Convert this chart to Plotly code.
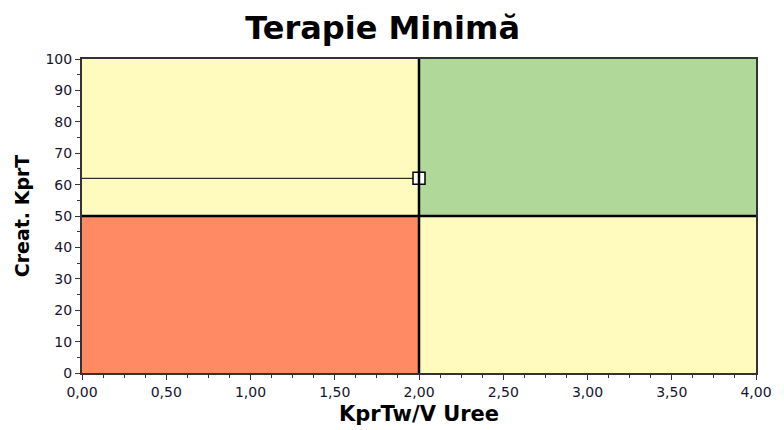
import plotly.graph_objects as go

# Threshold values that split the chart into quadrants
x_threshold = 2.0
y_threshold = 50
x_range = [0, 4.0]
y_range = [0, 100]

# Measured point
point_x = [2.0]
point_y = [62]

# Quadrant fill colours
color_low_low = "#FF8A64"
color_high_high = "#B0D898"
color_mixed = "#FFFBBE"

fig = go.Figure()

def quad(x0, x1, y0, y1, color):
    fig.add_shape(type="rect", xref="x", yref="y", x0=x0, x1=x1, y0=y0, y1=y1,
                  fillcolor=color, line=dict(width=0), layer="below")

quad(x_range[0], x_threshold, y_range[0], y_threshold, color_low_low)
quad(x_threshold, x_range[1], y_threshold, y_range[1], color_high_high)
quad(x_range[0], x_threshold, y_threshold, y_range[1], color_mixed)
quad(x_threshold, x_range[1], y_range[0], y_threshold, color_mixed)

# Thick divider lines
fig.add_shape(type="line", xref="x", yref="y", x0=x_threshold, x1=x_threshold,
              y0=y_range[0], y1=y_range[1], line=dict(color="black", width=2.5))
fig.add_shape(type="line", xref="x", yref="y", x0=x_range[0], x1=x_range[1],
              y0=y_threshold, y1=y_threshold, line=dict(color="black", width=2.5))

# Guide line from the y axis to the point
fig.add_trace(go.Scatter(x=[x_range[0], point_x[0]], y=[point_y[0], point_y[0]],
                         mode="lines", line=dict(color="black", width=1),
                         hoverinfo="skip", showlegend=False))
fig.add_trace(go.Scatter(x=point_x, y=point_y, mode="markers",
                         marker=dict(symbol="square", size=12, color="white",
                                     line=dict(color="black", width=1.5)),
                         showlegend=False))

tick_font = dict(family="DejaVu Sans, sans-serif", size=14, color="#141430")

fig.update_layout(
    width=784, height=430,
    margin=dict(l=82, r=28, t=59, b=57),
    paper_bgcolor="white", plot_bgcolor="white",
    separators=",.",
    title=dict(text="<b>Terapie Minimă</b>", x=0.488, xanchor="center", y=0.935, yanchor="middle",
               font=dict(family="DejaVu Sans, sans-serif", size=32, color="black")),
    xaxis=dict(range=x_range, dtick=0.5, tickformat=".2f", ticks="outside", ticklen=5,
               tickcolor="#333", tickwidth=1, showgrid=False, zeroline=False,
               showline=True, linecolor="#333", linewidth=2, mirror=True, automargin=False,
               tickfont=tick_font,
               minor=dict(dtick=0.125, ticks="outside", ticklen=3, tickcolor="#333", showgrid=False),
               title=dict(text="<b>KprTw/V Uree</b>", standoff=8,
                          font=dict(family="DejaVu Sans, sans-serif", size=21, color="black"))),
    yaxis=dict(range=y_range, dtick=10, ticks="outside", ticklen=5,
               tickcolor="#333", tickwidth=1, showgrid=False, zeroline=False,
               showline=True, linecolor="#333", linewidth=2, mirror=True, automargin=False,
               tickfont=tick_font,
               minor=dict(dtick=5, ticks="outside", ticklen=3, tickcolor="#333", showgrid=False),
               title=dict(text="<b>Creat. KprT</b>", standoff=11,
                          font=dict(family="DejaVu Sans, sans-serif", size=19, color="black"))),
)

fig.write_html("out.html")
